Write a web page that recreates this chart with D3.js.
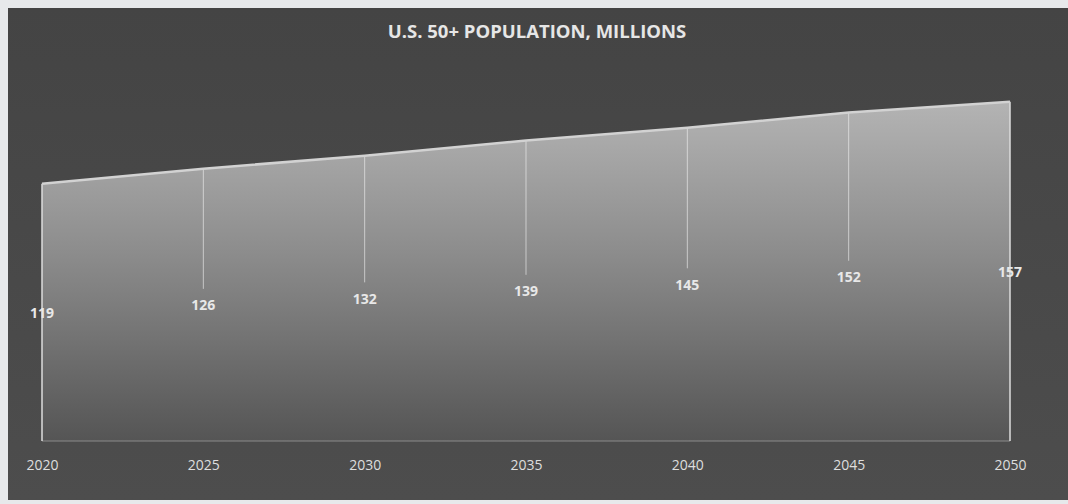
<!DOCTYPE html>
<html lang="en">
<head>
  <meta charset="UTF-8" />
  <title>U.S. 50+ Population</title>
  <script src="https://d3js.org/d3.v7.min.js"></script>
  <style>
    body { margin: 0; background: #e7e9eb; }
    svg { display: block; }
  </style>
</head>
<body>
  <svg id="chart" width="1068" height="504"></svg>
  <script>
    const years = [2020, 2025, 2030, 2035, 2040, 2045, 2050];
    const population = [119, 126, 132, 139, 145, 152, 157];
    const title = 'U.S. 50+ POPULATION, MILLIONS';

    const data = years.map((y, i) => ({ year: y, value: population[i] }));

    const svg = d3.select('#chart');
    const width = +svg.attr('width');
    const height = +svg.attr('height');

    const defs = svg.append('defs');

    const bg = defs.append('linearGradient')
      .attr('id', 'bg').attr('x1', 0).attr('y1', 0).attr('x2', 0).attr('y2', 1);
    bg.append('stop').attr('offset', '0%').attr('stop-color', '#444444');
    bg.append('stop').attr('offset', '100%').attr('stop-color', '#4d4d4d');

    const fill = defs.append('linearGradient')
      .attr('id', 'areaFill').attr('gradientUnits', 'userSpaceOnUse')
      .attr('x1', 0).attr('y1', 100).attr('x2', 0).attr('y2', 441);
    fill.append('stop').attr('offset', '0%').attr('stop-color', '#b4b4b4');
    fill.append('stop').attr('offset', '45%').attr('stop-color', '#8c8c8c');
    fill.append('stop').attr('offset', '100%').attr('stop-color', '#555555');

    // panel
    svg.append('rect')
      .attr('x', 8).attr('y', 8)
      .attr('width', width - 8).attr('height', 492)
      .attr('fill', 'url(#bg)');

    const x = d3.scalePoint()
      .domain(years)
      .range([42, 1010]);

    const y = d3.scaleLinear()
      .domain([0, 180])
      .range([441, 52]);

    const area = d3.area()
      .x(d => x(d.year))
      .y0(y(0))
      .y1(d => y(d.value));

    svg.append('path')
      .datum(data)
      .attr('d', area)
      .attr('fill', 'url(#areaFill)');

    // baseline
    svg.append('line')
      .attr('x1', x(years[0])).attr('x2', x(years[years.length - 1]))
      .attr('y1', y(0)).attr('y2', y(0))
      .attr('stroke', '#8a8a8a').attr('stroke-width', 1.2);

    // drop lines
    svg.append('g')
      .selectAll('line')
      .data(data.slice(1, -1))
      .join('line')
      .attr('x1', d => x(d.year)).attr('x2', d => x(d.year))
      .attr('y1', d => y(d.value)).attr('y2', d => (y(d.value) + y(0)) / 2 - 16)
      .attr('stroke', '#f4f4f4').attr('stroke-opacity', 0.6).attr('stroke-width', 1);

    // side edges
    [data[0], data[data.length - 1]].forEach(d => {
      svg.append('line')
        .attr('x1', x(d.year)).attr('x2', x(d.year))
        .attr('y1', y(d.value)).attr('y2', y(0))
        .attr('stroke', '#dcdcdc').attr('stroke-width', 1.5);
    });

    // top line
    svg.append('path')
      .datum(data)
      .attr('d', d3.line().x(d => x(d.year)).y(d => y(d.value)))
      .attr('fill', 'none')
      .attr('stroke', '#d2d2d2')
      .attr('stroke-width', 2.5);

    // data labels
    svg.append('g')
      .selectAll('text')
      .data(data)
      .join('text')
      .attr('x', d => x(d.year))
      .attr('y', d => (y(d.value) + y(0)) / 2)
      .attr('text-anchor', 'middle')
      .attr('dominant-baseline', 'central')
      .attr('font-family', '"Open Sans", sans-serif')
      .attr('font-weight', 'bold')
      .attr('font-size', '14px')
      .attr('fill', '#e8e8e8')
      .text(d => d.value);

    // x axis
    const xAxis = svg.append('g')
      .attr('transform', `translate(0, ${y(0) + 25})`)
      .call(d3.axisBottom(x).tickSize(0).tickPadding(0));
    xAxis.select('.domain').remove();
    xAxis.selectAll('text')
      .attr('font-family', '"Open Sans", sans-serif')
      .attr('font-size', '14px')
      .attr('fill', '#dedede')
      .attr('dy', '0.32em')
      .attr('y', 0);

    // title
    svg.append('text')
      .attr('x', 537)
      .attr('y', 30)
      .attr('text-anchor', 'middle')
      .attr('dominant-baseline', 'central')
      .attr('font-family', '"Open Sans", sans-serif')
      .attr('font-weight', 'bold')
      .attr('font-size', '18.5px')
      .attr('fill', '#e6e6e6')
      .text(title);
  </script>
</body>
</html>
